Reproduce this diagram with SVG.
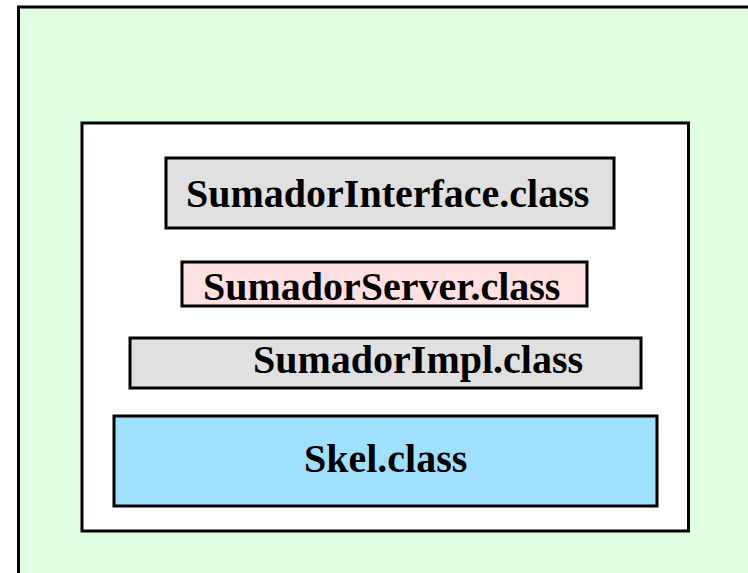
<svg xmlns="http://www.w3.org/2000/svg" width="748" height="573" viewBox="0 0 748 573">
<style>
.box{stroke:#000;stroke-width:3}
.lbl{font-family:"Liberation Serif","Times New Roman",serif;font-weight:bold;font-size:40px;fill:#000}
</style>
<rect width="748" height="573" fill="#fff"/>
<g id="host">
<rect class="box" x="18.5" y="7" width="800" height="620" fill="#E0FEE0"/>
</g>
<g id="container">
<rect class="box" x="82" y="123" width="606.5" height="408" fill="#fff"/>
</g>
<g id="interface">
<rect class="box" x="166" y="158" width="448" height="70" fill="#E0E0E0"/>
<text class="lbl" x="186" y="207">SumadorInterface.class</text>
</g>
<g id="server">
<rect class="box" x="182" y="262" width="405" height="44" fill="#FFE0E0"/>
<text class="lbl" x="203" y="300">SumadorServer.class</text>
</g>
<g id="impl">
<rect class="box" x="130" y="338" width="511" height="50" fill="#E0E0E0"/>
<text class="lbl" x="253" y="373">SumadorImpl.class</text>
</g>
<g id="skel">
<rect class="box" x="114" y="416" width="543" height="90" fill="#A0E0FF"/>
<text class="lbl" x="304" y="472">Skel.class</text>
</g>
<g id="connectors"/>
</svg>
